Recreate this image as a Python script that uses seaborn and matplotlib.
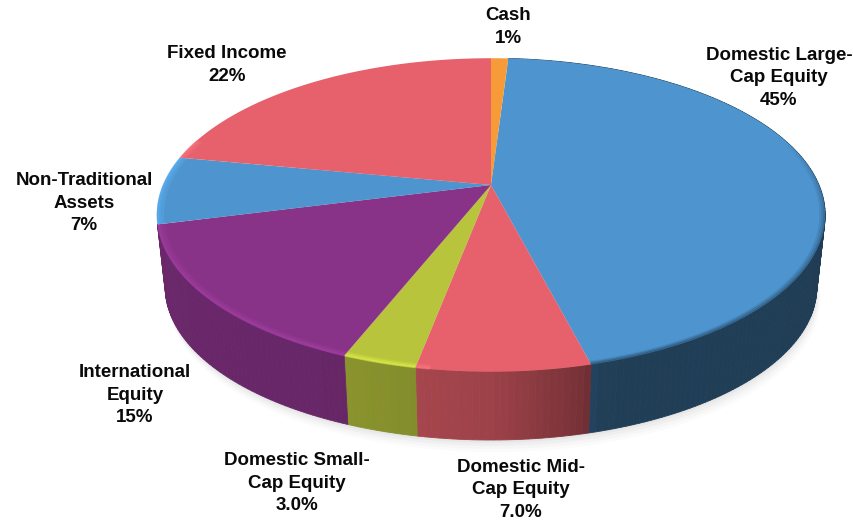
# Tilted 3D-look pie of the asset allocation
import numpy as np
import matplotlib.pyplot as plt
import matplotlib.colors as mcolors
import seaborn as sns

# Data, clockwise from 12 o'clock
slices = ["Domestic Large-\nCap Equity\n45%", "Domestic Mid-\nCap Equity\n7.0%",
          "Domestic Small-\nCap Equity\n3.0%", "International\nEquity\n15%",
          "Non-Traditional\nAssets\n7%", "Fixed Income\n22%", "Cash\n1%"]
values = [45, 7, 3, 15, 7, 22, 1]
colours = ["#4E95D0", "#E7616C", "#B7C43C", "#883388", "#4E95D0", "#E7616C", "#F79B38"]
label_x = [779, 521, 297, 135, 84, 227, 508]
label_y = [78, 490, 483, 395, 203, 65, 27]

START = 3.6  # large-cap starts just after 12 o'clock
CX, CY = 491, 185  # where the slices meet, in pixels
A, B, K = 328, 151, 0.191  # ellipse size and perspective
DEPTH, SHRINK = 73, 0.975  # lower rim of the wall


def project(theta, scale=1.0, dy=0.0):
    # theta in degrees clockwise from the top
    t = np.radians(theta)
    den = 1 + K * np.cos(t)
    return CX + scale * A * np.sin(t) / den, CY - scale * B * np.cos(t) / den + dy


def wall_shade(theta):
    # how much of the colour is left on the side wall, by position round the pie
    s = np.sin(np.radians(theta))
    return np.interp(s, [-1, -0.4, 0, 0.22, 0.27, 1], [0.78, 0.76, 0.68, 0.52, 0.42, 0.41])


def scaled(colour, f):
    return tuple(min(1, c * f) for c in mcolors.to_rgb(colour))


sns.set_theme(style="white")
plt.rcParams['font.family'] = ['Liberation Sans', 'DejaVu Sans']

fig, ax = plt.subplots(figsize=(8.54, 5.21), dpi=100)
ax.set_position([0, 0, 1, 1])
ax.set_xlim(0, 854)
ax.set_ylim(521, 0)
ax.axis("off")

edges = START + np.cumsum([0] + [v * 3.6 for v in values])

# Soft shadow under the pie
tt = np.linspace(0, 360, 361)
for grow, alpha in zip([12, 9, 6, 3, 1], [0.03, 0.04, 0.05, 0.06, 0.07]):
    sx, sy = project(tt, SHRINK, DEPTH)
    ax.fill(sx + grow * 0.3, sy + grow, color="#808080", alpha=alpha, lw=0, zorder=1)

# Side wall, one thin strip per step. Only the slices from large-cap round to
# international face the viewer
for i in range(4):
    steps = np.arange(edges[i], edges[i + 1] + 1.0, 1.0)
    steps[-1] = min(steps[-1], edges[i + 1])
    for a, b in zip(steps[:-1], steps[1:]):
        x1, y1 = project(a)
        x2, y2 = project(b)
        x3, y3 = project(b, SHRINK, DEPTH)
        x4, y4 = project(a, SHRINK, DEPTH)
        c = scaled(colours[i], wall_shade((a + b) / 2))
        ax.fill([x1, x2, x3, x4], [y1, y2, y3, y4], color=c, lw=0.6, zorder=2)

# Top faces
for i, colour in enumerate(colours):
    th = np.linspace(edges[i], edges[i + 1], 60)
    x, y = project(th)
    ax.fill(np.r_[CX, x], np.r_[CY, y], color=colour, lw=0, zorder=3)

# Bevel along the rim: light on the left, a dark blur on the large-cap slice
for i, colour in enumerate(colours):
    steps = np.linspace(edges[i], edges[i + 1], max(3, int(values[i] * 3.6)))
    for a, b in zip(steps[:-1], steps[1:]):
        side = np.sin(np.radians((a + b) / 2))
        front = -np.cos(np.radians((a + b) / 2))
        if side < -0.15 and front > -0.3:
            for sc, al in [(0.997, 0.5), (0.99, 0.35), (0.982, 0.2)]:
                xs, ys = project(np.array([a, b]), sc)
                ax.plot(xs, ys, color=scaled(colour, 1.25), lw=1.8, alpha=al, zorder=4,
                        solid_capstyle="butt")
        elif i == 0 and front > -0.3:
            weight = min(1, (front + 0.3) / 0.5)
            for sc, al in [(0.998, 0.5), (0.992, 0.3), (0.986, 0.15)]:
                xs, ys = project(np.array([a, b]), sc)
                ax.plot(xs, ys, color=scaled(colour, 0.45), lw=1.6, alpha=al * weight,
                        zorder=4, solid_capstyle="butt")

# Labels
for text, x, y in zip(slices, label_x, label_y):
    ax.text(x, y, text, ha="center", va="center", fontsize=13.5, fontweight="bold",
            color="#0A0A0A", linespacing=1.42, zorder=5)

plt.savefig("out.png", dpi=100)
